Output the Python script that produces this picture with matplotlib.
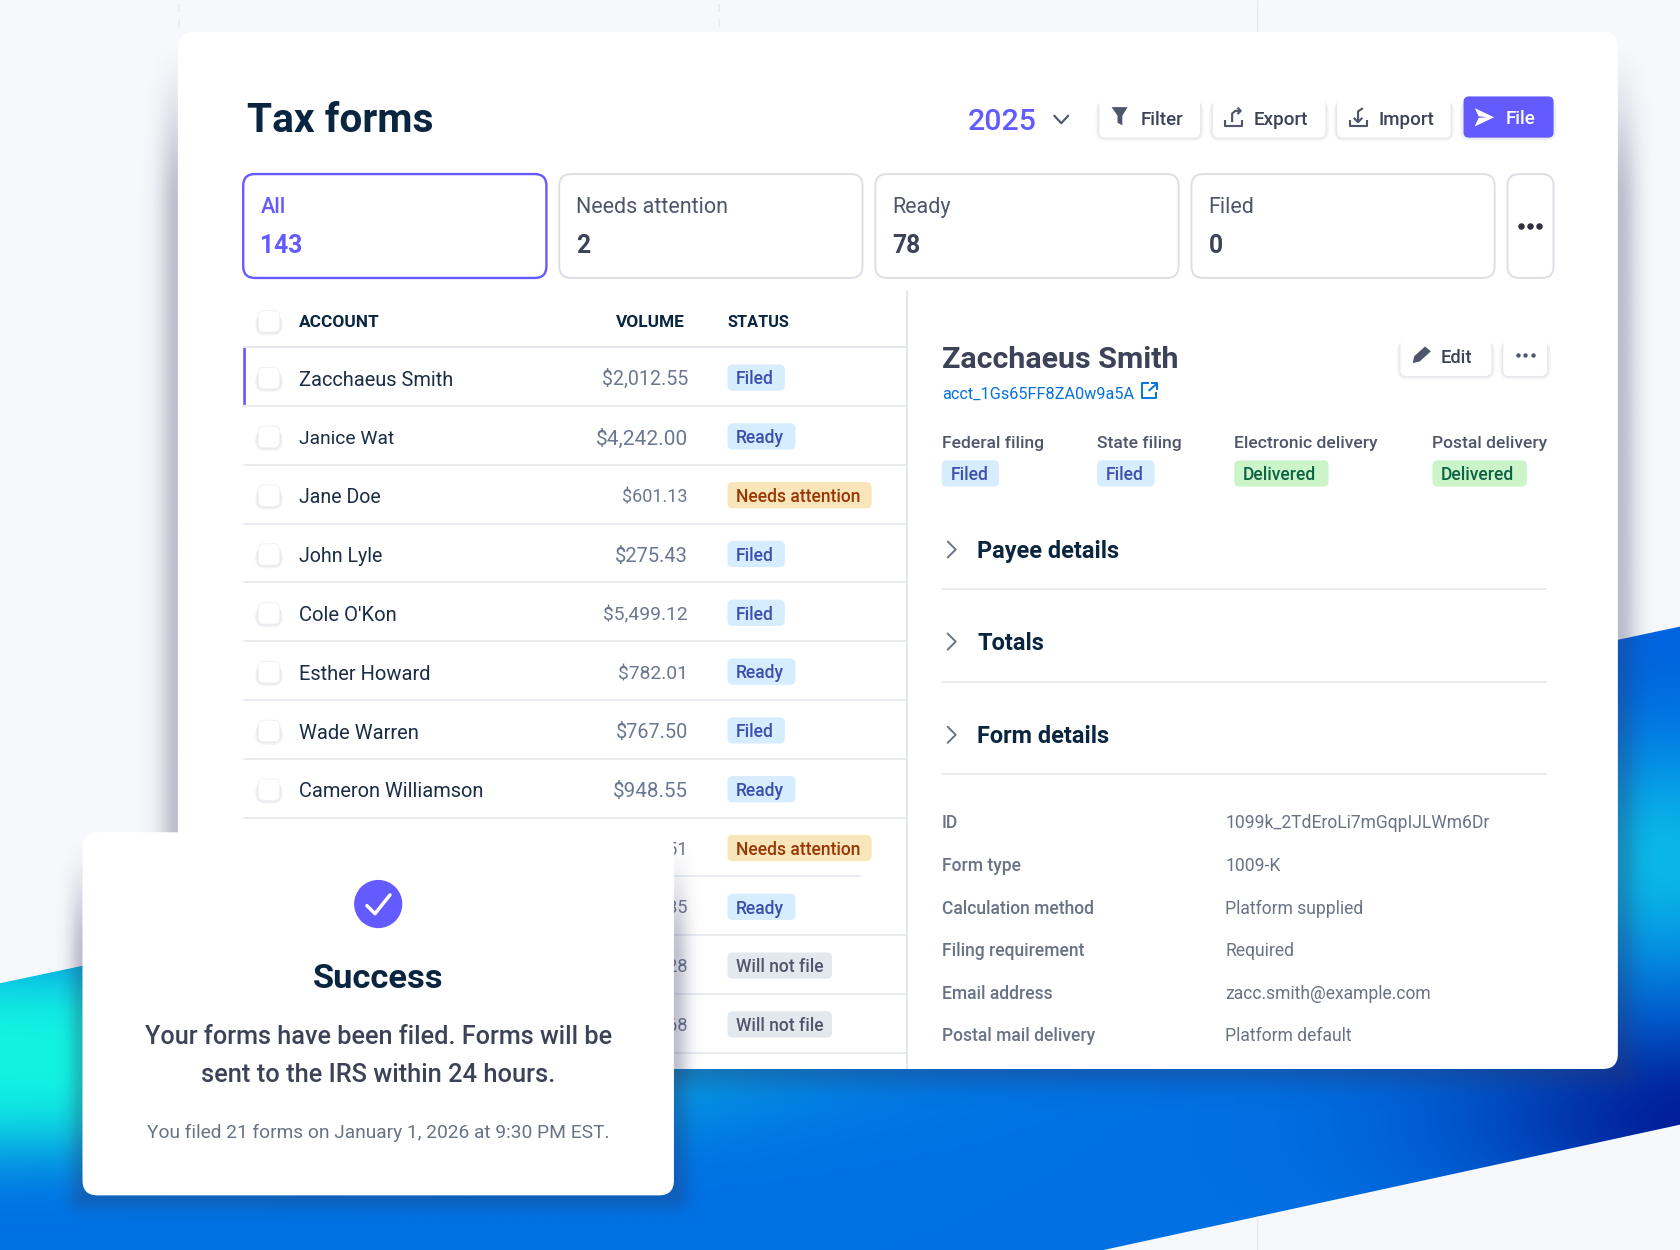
import numpy as np
import matplotlib
matplotlib.use("Agg")
import matplotlib.pyplot as plt
from matplotlib.patches import FancyBboxPatch, Polygon, Circle

# ---- data ----
names = ["Zacchaeus Smith", "Janice Wat", "Jane Doe", "John Lyle", "Cole O'Kon",
         "Esther Howard", "Wade Warren", "Cameron Williamson", "", "", "", ""]
volumes = ["$2,012.55", "$4,242.00", "$601.13", "$275.43", "$5,499.12", "$782.01",
           "$767.50", "$948.55", "$851.51", "$935.35", "$428.28", "$618.68"]
statuses = ["Filed", "Ready", "Needs attention", "Filed", "Filed", "Ready",
            "Filed", "Ready", "Needs attention", "Ready", "Will not file", "Will not file"]
tab_labels = ["All", "Needs attention", "Ready", "Filed"]
tab_counts = ["143", "2", "78", "0"]
filing_labels = ["Federal filing", "State filing", "Electronic delivery", "Postal delivery"]
filing_values = ["Filed", "Filed", "Delivered", "Delivered"]
sections = ["Payee details", "Totals", "Form details"]
detail_labels = ["ID", "Form type", "Calculation method", "Filing requirement",
                 "Email address", "Postal mail delivery"]
detail_values = ["1099k_2TdEroLi7mGqpIJLWm6Dr", "1009-K", "Platform supplied", "Required",
                 "zacc.smith@example.com", "Platform default"]

# layout: drawn widths of the table's text, in layout units
name_fit = [144, 89, 76, 78, 91, 123, 112, 172, 0, 0, 0, 0]
volume_fit = [80, 86, 61, 68, 79, 65, 67, 70, 61, 61, 61, 61]

FONT = "Roboto"
W, H = 1568, 1167
fig = plt.figure(figsize=(16.8, 12.5), dpi=100)
ax = fig.add_axes([0, 0, 1, 1])
ax.axis("off")
PT = 0.7714
PURPLE = "#635bff"
NAVY = "#0a2540"
SLATE = "#3c4257"
GREY = "#697386"
LINE = "#e3e8ee"
BG = "#f7f8fc"
fig.patch.set_facecolor(BG)
rend = fig.canvas.get_renderer()

# ---- helpers ----
def T(x, y, s, size, color, weight=400, ha="left", z=4, w=None):
    t = ax.text(x, y + 0.36 * size, s, fontsize=size * PT, color=color, family=FONT,
                fontweight=weight, ha=ha, va="baseline", zorder=z)
    if w:
        mw = t.get_window_extent(rend).width / 1.0714
        size = size * w / mw
        t.set_fontsize(size * PT)
        t.set_y(y + 0.36 * size)
    return t

def box(x0, y0, x1, y1, r, fc="white", ec="none", lw=0, z=3, alpha=None):
    p = FancyBboxPatch((x0, y0), x1 - x0, y1 - y0, boxstyle=f"round,pad=0,rounding_size={r}",
                       fc=fc, ec=ec, lw=lw * PT, zorder=z, alpha=alpha, mutation_aspect=1)
    ax.add_patch(p)
    return p

def L(xs, ys, c=LINE, lw=1.5, z=3, **k):
    ax.plot(xs, ys, color=c, lw=lw * PT, zorder=z, solid_capstyle=k.pop("cap", "butt"), **k)

def small_shadow(x0, y0, x1, y1, r, spread, top, z, a=0.03, n=4, c="#32325d"):
    for i in range(n, 0, -1):
        e = spread * (i / n) ** 1.7
        box(x0 - e, y0 + top * i / n, x1 + e, y1 + e, r + 1.5 * e, fc=c, z=z, alpha=a)

def soft_shadow(x0, y0, x1, y1, strength, reach, ramp, z):
    """blurred shadow image that is absent at the top of the box and grows downwards."""
    m = int(reach * 3)
    ex0, ex1, ey0, ey1 = x0 - m, x1 + m, y0, min(y1 + m, H)
    gy, gx = np.mgrid[ey0:ey1:1.0, ex0:ex1:1.0]
    dx = np.maximum(np.maximum(x0 - gx, gx - x1), 0)
    dy = np.maximum(gy - y1, 0)
    t = np.clip((gy - y0) / ramp, 0, 1)
    alpha = strength * np.exp(-((dx ** 2 + dy ** 2) / reach ** 2)) * t * t * (3 - 2 * t)
    rgba = np.zeros(gx.shape + (4,))
    rgba[..., :3] = np.array([50, 50, 93]) / 255
    rgba[..., 3] = alpha
    ax.imshow(rgba, extent=(ex0, ex1, ey1, ey0), aspect="auto", zorder=z, interpolation="bilinear")
    ax.set_xlim(0, W)
    ax.set_ylim(H, 0)

def button(x0, y0, x1, y1, z=3):
    small_shadow(x0, y0, x1, y1, 5, 3.5, 4, z, a=0.035)
    box(x0, y0, x1, y1, 5, z=z + 0.1)

def checkbox(cx, cy):
    small_shadow(cx - 10, cy - 10, cx + 10, cy + 10, 5, 3, 4, 3, a=0.05, n=3)
    box(cx - 10, cy - 10, cx + 10, cy + 10, 5, ec="#f0f2f5", lw=1, z=3.1)

BADGE = {"Filed": ("#d6ecff", "#3d4eac", 53.5), "Ready": ("#d6ecff", "#3d4eac", 63.5),
         "Needs attention": ("#f8e5b9", "#983705", 134.5), "Will not file": ("#e3e8ee", "#4f566b", 97.5),
         "Delivered": ("#cbf4c9", "#0e6245", 88)}

def badge(x, y, s):
    fc, tc, w = BADGE[s]
    box(x, y - 12.25, x + w, y + 12.25, 5, fc=fc, z=3)
    T(x + 8, y + 0.5, s, 16.4, tc, 500)

# ---- background band ----
yy, xx = np.mgrid[0:H:2, 0:W:2]
def blob(cx, cy, rx, ry, p=1.0):
    return np.exp(-(((xx - cx) / rx) ** 2 + ((yy - cy) / ry) ** 2) ** p)
img = np.ones(xx.shape + (3,)) * np.array([0, 113, 228]) / 255
for (cx, cy, rx, ry, col, amt, p) in [
    (-20, 985, 640, 95, (18, 243, 226), 1.0, 1.5),
    (1545, 803, 130, 105, (10, 184, 232), 1.0, 1.0),
    (1610, 1045, 240, 95, (2, 28, 150), 1.0, 1.0),
    (1620, 590, 300, 80, (0, 90, 218), 0.6, 1.0),
]:
    m = (blob(cx, cy, rx, ry, p) * amt)[..., None]
    img = img * (1 - m) + np.array(col) / 255 * m
im = ax.imshow(img, extent=(0, W, H, 0), aspect="auto", zorder=0.5, interpolation="bilinear")
band = Polygon([(0, 918), (W, 585), (W, 1050), (1030, H), (0, H)], closed=True, fc="none", ec="none",
               transform=ax.transData)
ax.add_patch(band)
im.set_clip_path(band)
ax.set_xlim(0, W)
ax.set_ylim(H, 0)

# guides
L([167, 167], [4, 30], "#e6e9f0", 1.5, z=0.4, linestyle=(0, (5, 4.5)))
L([671, 671], [4, 30], "#e6e9f0", 1.5, z=0.4, linestyle=(0, (5, 4.5)))
L([1173, 1173], [0, 30], "#e6e9f0", 1.3, z=0.4)
L([1173, 1173], [1135, H], "#e6e9f0", 1.3, z=0.7)

# ---- main card ----
soft_shadow(166, 30, 1510, 998, 0.30, 17, 170, 1)
box(166, 30, 1510, 998, 14, z=2)

T(230.5, 110, "Tax forms", 38.5, NAVY, 700, w=174)
T(903, 111, "2025", 29, PURPLE, 500, w=64)
L([984, 990.5, 997], [108, 115, 108], "#4f566b", 2, cap="round")

button(1026, 90.5, 1120, 128.5)
button(1132, 90.5, 1237, 128.5)
button(1248, 90.5, 1354, 128.5)
small_shadow(1366, 90, 1450, 128.5, 5, 3.5, 4, 3)
box(1366, 90, 1450, 128.5, 5, fc=PURPLE, z=3.1)
for x, s in [(1065, "Filter"), (1170, "Export"), (1287, "Import")]:
    T(x, 110.5, s, 17.5, "#3c4257", 500)
T(1405, 109.5, "File", 17.5, "white", 500, z=4)
# funnel
ax.add_patch(Polygon([(1037.5, 100), (1052.5, 100), (1047.5, 108), (1047.5, 117), (1043, 114.5), (1043, 108)],
                     fc="#4f566b", ec="none", zorder=4))
# export icon
L([1143.5, 1143.5, 1159, 1159], [112, 118, 118, 112], "#4f566b", 2, z=4)
L([1150, 1150, 1153, 1158], [114, 106, 103.5, 103.5], "#4f566b", 2, z=4)
L([1155, 1158, 1155], [100.5, 103.5, 106.5], "#4f566b", 2, z=4)
# import icon
L([1260, 1260, 1275.5, 1275.5], [112, 118, 118, 112], "#4f566b", 2, z=4)
L([1267.5, 1267.5, 1272], [114, 104, 101], "#4f566b", 2, z=4)
L([1263.5, 1267.5, 1271.5], [110, 114, 110], "#4f566b", 2, z=4)
# send icon
ax.add_patch(Polygon([(1376.5, 101), (1394.5, 109.5), (1376.5, 118), (1380, 110), (1388, 109.5), (1380, 108.5)],
                     fc="white", ec="none", zorder=4))

# tabs
tab_x = [227, 522, 817, 1112]
for i, (lab, cnt) in enumerate(zip(tab_labels, tab_counts)):
    x = tab_x[i]
    active = i == 0
    box(x, 162.5, x + 283, 259.5, 11, ec=PURPLE if active else "#dcdfe6", lw=2.2 if active else 1.8, z=3)
    T(x + 16, 192, lab, 20.1, PURPLE if active else "#4f566b", 500 if active else 400)
    T(x + 16, 228, cnt, 23, PURPLE if active else SLATE, 700)
box(1407, 162.5, 1450, 259.5, 11, ec="#dcdfe6", lw=1.8, z=3)
ax.scatter([1420, 1428, 1436], [211, 211, 211], s=22, c="#30313d", zorder=4, linewidths=0)

# ---- table ----
checkbox(251, 300)
T(279, 299.5, "ACCOUNT", 16, NAVY, 700, w=75)
T(639, 299.5, "VOLUME", 16, NAVY, 700, ha="right", w=64)
T(679, 299.5, "STATUS", 16, NAVY, 700, w=58)
L([227, 846], [324, 324], lw=2)
row_h = 54.9
for i, (n, v, s) in enumerate(zip(names, volumes, statuses)):
    y = 353 + i * row_h
    if n:
        checkbox(251, y)
        T(279, y + 0.5, n, 19, "#1a2d45", 400, w=name_fit[i])
    T(642, y, v, 19, "#6b7790", 400, ha="right", w=volume_fit[i])
    badge(679, y - 0.5, s)
    x_end = 804 if i == 8 else 846
    L([227, x_end], [y + 26, y + 26], lw=1.5)
box(227, 325, 229.5, 378, 0.01, fc=PURPLE, z=3.5)
L([846.5, 846.5], [272, 998], lw=1.8)

# ---- detail panel ----
T(879, 333, "Zacchaeus Smith", 28, SLATE, 700, w=221)
T(879, 367, "acct_1Gs65FF8ZA0w9a5A", 15.2, "#0570de", 400, w=179)
L([1072, 1066, 1066, 1079, 1079], [358, 358, 372, 372, 366], "#0570de", 1.8, z=4)
L([1072, 1080], [365, 358], "#0570de", 1.8, z=4)
L([1074, 1080, 1080], [358, 358, 364], "#0570de", 1.8, z=4)
button(1307, 315, 1392, 351)
button(1403, 315, 1444, 351)
ax.add_patch(Polygon([(1318.5, 339), (1320, 332.5), (1330, 323.5), (1335.5, 328), (1325, 337.5)],
                     fc="#4f566b", ec="none", zorder=4))
T(1345, 333, "Edit", 17, SLATE, 500)
ax.scatter([1416.5, 1423.5, 1430.5], [331.5] * 3, s=10, c="#4f566b", zorder=4, linewidths=0)

for x, lab, val in zip([879, 1024, 1152, 1337], filing_labels, filing_values):
    T(x, 412, lab, 16.3, "#4f566b", 500)
    badge(x, 442, val)

for y, sec, ly in zip([513, 599, 686], sections, [550, 636.5, 723]):
    L([884.5, 892, 884.5], [y - 7.5, y, y + 7.5], "#697386", 1.8, cap="round")
    T(912, y, sec, 21.9, NAVY, 700)
    L([879, 1444], [ly, ly], lw=1.5)

for y, a, b in zip([767, 807, 847, 887, 926.5, 966], detail_labels, detail_values):
    T(879, y, a, 16.4, GREY, 500)
    T(1143.5, y, b, 16.4, GREY, 400)

# ---- success popup ----
soft_shadow(77, 777, 629, 1116, 0.30, 13, 120, 5)
box(77, 777, 629, 1116, 14, z=6)
ax.add_patch(Circle((353, 844), 22.5, fc=PURPLE, ec="none", zorder=7))
L([342.5, 350, 364], [845.5, 853, 835.5], "white", 3.2, z=8, cap="round")
T(353, 911, "Success", 33, NAVY, 700, ha="center", z=7, w=122)
T(353, 966, "Your forms have been filed. Forms will be", 24, SLATE, 500, ha="center", z=7, w=438)
T(353, 1002, "sent to the IRS within 24 hours.", 24, SLATE, 500, ha="center", z=7, w=331)
T(353, 1056, "You filed 21 forms on January 1, 2026 at 9:30 PM EST.", 18, GREY, 400, ha="center", z=7, w=432)

fig.savefig("out.png", dpi=100, facecolor=BG)
